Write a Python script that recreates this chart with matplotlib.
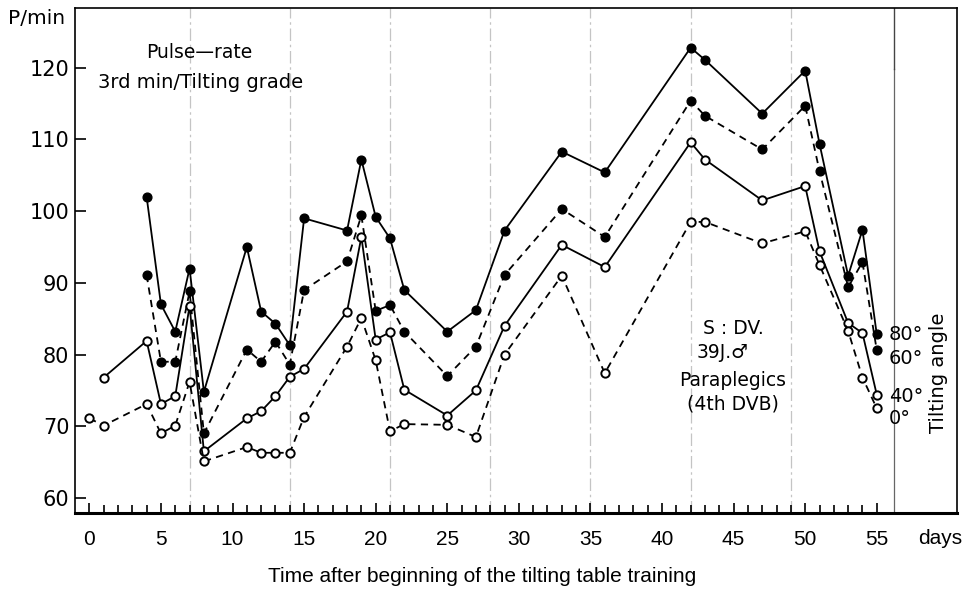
import matplotlib
matplotlib.use('Agg')
import matplotlib.pyplot as plt

plt.rcParams['font.family'] = ['DejaVu Sans']

days_80 = [4, 5, 6, 7, 8, 11, 12, 13, 14, 15, 18, 19, 20, 21, 22, 25, 27, 29, 33, 36, 42, 43, 47, 50, 51, 53, 54, 55]
pulse_80 = [102, 87, 83.2, 92, 74.8, 95, 86, 84.3, 81.3, 99, 97.3, 107.2, 99.2, 96.2, 89, 83.2, 86.2, 97.3,
            108.3, 105.4, 122.8, 121.1, 113.6, 119.6, 109.4, 91, 97.4, 82.8]

days_60 = [4, 5, 6, 7, 8, 11, 12, 13, 14, 15, 18, 19, 20, 21, 22, 25, 27, 29, 33, 36, 42, 43, 47, 50, 51, 53, 54, 55]
pulse_60 = [91.1, 79, 79, 88.8, 69, 80.7, 79, 81.8, 78.6, 89, 93, 99.4, 86.1, 86.9, 83.2, 77, 81.1, 91.1,
            100.3, 96.4, 115.4, 113.3, 108.6, 114.7, 105.6, 89.4, 92.9, 80.6]

days_40 = [1, 4, 5, 6, 7, 8, 11, 12, 13, 14, 15, 18, 19, 20, 21, 22, 25, 27, 29, 33, 36, 42, 43, 47, 50, 51, 53, 54, 55]
pulse_40 = [76.8, 81.9, 73.1, 74.2, 86.8, 66.5, 71.1, 72.1, 74.2, 76.9, 78, 86, 96.4, 82.1, 83.1, 75.1, 71.5, 75,
            84, 95.3, 92.2, 109.6, 107.2, 101.5, 103.5, 94.4, 84.4, 83, 74.4]

days_0 = [0, 1, 4, 5, 6, 7, 8, 11, 12, 13, 14, 15, 18, 19, 20, 21, 22, 25, 27, 29, 33, 36, 42, 43, 47, 50, 51, 53, 54, 55]
pulse_0 = [71.1, 70.1, 73.1, 69, 70.1, 76.2, 65.1, 67.1, 66.3, 66.3, 66.3, 71.3, 81.1, 85.1, 79.2, 69.3, 70.3, 70.2,
           68.5, 80, 91, 77.4, 98.5, 98.5, 95.5, 97.2, 92.5, 83.3, 76.8, 72.5]

week_days = [7, 14, 21, 28, 35, 42, 49]
angle_labels = ['80°', '60°', '40°', '0°']
note_lines = ['S : DV.', '39J.\u2642', 'Paraplegics', '(4th DVB)']

W, H = 967, 589


def px(x, y):
    # pixel position -> figure fraction
    return x / W, 1 - y / H


def main():
    fig = plt.figure(figsize=(9.67, 5.89), dpi=100)
    ax = fig.add_axes([0.0776, 0.129, 0.912, 0.857])

    for d in week_days:
        ax.axvline(d, color='#c4c4c4', lw=0.9, ls=(0, (10, 3, 2, 3)), zorder=0)
    ax.axvline(56.2, ymax=0.88, color='#666666', lw=0.9, zorder=0)
    ax.axvline(56.2, ymin=0.88, color='#444444', lw=1.0, zorder=0)

    ax.plot(days_80, pulse_80, '-', color='black', lw=1.3, marker='o', ms=6.3,
            mfc='black', mec='black')
    ax.plot(days_60, pulse_60, color='black', lw=1.3, ls=(0, (4, 3)), marker='o', ms=6.3,
            mfc='black', mec='black')
    ax.plot(days_40, pulse_40, '-', color='black', lw=1.3, marker='o', ms=6,
            mfc='white', mec='black', mew=1.4)
    ax.plot(days_0, pulse_0, color='black', lw=1.3, ls=(0, (4, 3)), marker='o', ms=6,
            mfc='white', mec='black', mew=1.4)

    ax.set_xlim(-1, 60.6)
    ax.set_ylim(57.9, 128.3)
    ax.set_yticks([60, 70, 80, 90, 100, 110, 120])
    ax.set_xticks(range(0, 56, 5))
    ax.set_xticks([d for d in range(0, 56) if d % 5], minor=True)
    ax.tick_params(axis='y', direction='in', length=8, width=1.2, pad=4, labelsize=15)
    ax.tick_params(axis='x', which='major', direction='in', length=7, width=1.2, pad=12)
    ax.tick_params(axis='x', which='minor', direction='in', length=6, width=1.2)
    for lab in ax.get_xticklabels():
        lab.set_fontfamily('Liberation Sans')
        lab.set_fontsize(15)
    for s in ax.spines.values():
        s.set_linewidth(1.2)
    ax.spines['bottom'].set_linewidth(2.2)

    fig.text(*px(37, 18), 'P/min', fontsize=14.5, ha='center', va='center')
    fig.text(*px(940, 538), 'days', fontsize=15, ha='center', va='center', family='Liberation Sans')
    fig.text(*px(482, 576), 'Time after beginning of the tilting table training',
             fontsize=15, ha='center', va='center', family='Liberation Sans')

    fig.text(*px(199, 53), 'Pulse\u2014rate', fontsize=13.5, ha='center', va='center')
    fig.text(*px(201, 82), '3rd min/Tilting grade', fontsize=14, ha='center', va='center')

    for line, (xp, yp) in zip(note_lines, [(733, 328), (723, 353), (733, 380), (733, 404)]):
        fig.text(*px(xp, yp), line, fontsize=13.5, ha='center', va='center')

    for lab, yp in zip(angle_labels, [335, 358, 397, 419]):
        fig.text(*px(889, yp), lab, fontsize=14, ha='left', va='center')
    fig.text(*px(938, 373), 'Tilting angle', fontsize=14, rotation=90, ha='center', va='center')

    fig.savefig('out.png', dpi=100)


if __name__ == '__main__':
    main()
